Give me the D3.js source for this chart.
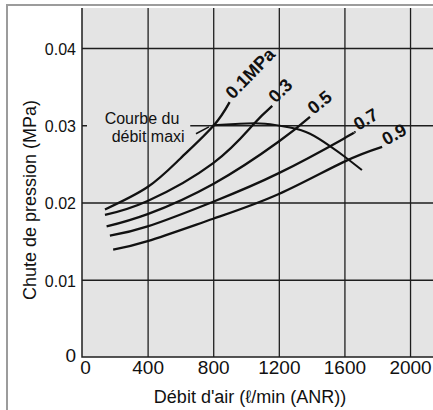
<!DOCTYPE html>
<html><head><meta charset="utf-8">
<script src="https://cdn.jsdelivr.net/npm/d3@7"></script>
<style>html,body{margin:0;padding:0;background:#fff}svg{display:block}</style>
</head><body><svg id="c" width="433" height="410"></svg>
<script>
// ---- data ----
const xTickValues = [0, 400, 800, 1200, 1600, 2000];
const xTickLabels = ["0", "400", "800", "1200", "1600", "2000"];
const yTickValues = [0, 0.01, 0.02, 0.03, 0.04];
const yTickLabels = ["0", "0.01", "0.02", "0.03", "0.04"];
const seriesNames = ["0.1MPa", "0.3", "0.5", "0.7", "0.9"];
const flow_01 = [140, 400, 600, 800, 900];
const drop_01 = [0.0191, 0.0220, 0.0257, 0.0299, 0.0330];
const flow_03 = [140, 400, 800, 1040, 1160];
const drop_03 = [0.0184, 0.0202, 0.0251, 0.0300, 0.0325];
const flow_05 = [150, 400, 800, 1200, 1390];
const drop_05 = [0.0169, 0.0185, 0.0224, 0.0279, 0.0311];
const flow_07 = [170, 400, 800, 1200, 1590, 1660];
const drop_07 = [0.0157, 0.0169, 0.0201, 0.0238, 0.0282, 0.0291];
const flow_09 = [190, 400, 800, 1200, 1590, 1830];
const drop_09 = [0.0139, 0.0150, 0.0179, 0.0211, 0.0252, 0.0272];
const maxFlow = [797, 963, 1116, 1268, 1390, 1512, 1604, 1707];
const maxDrop = [0.0300, 0.0302, 0.0302, 0.0297, 0.0289, 0.0273, 0.0259, 0.0242];
const maxLabelLines = ["Courbe du", "débit maxi"];
const maxLabelFlow = [138, 181];
const maxLabelDrop = [0.03016, 0.02783];
const leaderFlow = [695, 774];
const leaderDrop = [0.0289, 0.0298];
const xTitle = "Débit d'air (\u2113/min (ANR))";
const yTitle = "Chute de pression (MPa)";

// ---- style / layout ----
const W = 433, H = 410;
const plot = {left: 82, right: 433, top: 8, bottom: 357};
const labelAngles = [-46, -45, -39, -31, -29];
const FONT = "'Liberation Sans', Arial, Helvetica, sans-serif";
const BG = "#e4e4e4";

const svg = d3.select("#c");
const x = d3.scaleLinear().domain([0, 2140]).range([plot.left, plot.right]);
const y = d3.scaleLinear().domain([0, 0.04518]).range([plot.bottom, plot.top]);

// outer frame
svg.append("path").attr("d", `M7,${H} L7,5 L${W},5`).attr("fill", "none")
  .attr("stroke", "#9c9c9c").attr("stroke-width", 2);

// plot background
svg.append("rect").attr("x", plot.left).attr("y", plot.top)
  .attr("width", plot.right - plot.left).attr("height", plot.bottom - plot.top).attr("fill", BG);

// horizontal grid + y labels
const yAxis = svg.append("g").attr("transform", `translate(${plot.left},0)`)
  .call(d3.axisLeft(y).tickValues(yTickValues).tickFormat((d, i) => yTickLabels[i])
    .tickSize(-(plot.right - plot.left)).tickPadding(6));
yAxis.select(".domain").remove();
yAxis.selectAll(".tick line").attr("stroke", "#1e1e1e").attr("stroke-width", 1.3)
  .filter(d => d === 0).remove();
yAxis.selectAll(".tick text").attr("font-family", FONT).attr("font-size", 16).attr("fill", "#111")
  .attr("dy", "0.4em");
yAxis.selectAll(".tick text").filter(d => d === 0).attr("font-size", 19).attr("dy", "0.22em");

// label background (hides horizontal grid behind the annotation)
svg.append("rect").attr("x", plot.left + 5).attr("y", y(0.0317))
  .attr("width", x(660) - plot.left - 5).attr("height", y(0.0273) - y(0.0317)).attr("fill", BG);

// vertical grid + x labels
const xAxis = svg.append("g").attr("transform", `translate(0,${plot.bottom})`)
  .call(d3.axisBottom(x).tickValues(xTickValues).tickFormat((d, i) => xTickLabels[i])
    .tickSize(-(plot.bottom - plot.top)).tickPadding(4));
xAxis.select(".domain").remove();
xAxis.selectAll(".tick line").attr("stroke", "#1e1e1e").attr("stroke-width", 1.3)
  .filter(d => d === 0).remove();
xAxis.selectAll(".tick text").attr("font-family", FONT).attr("font-size", 19).attr("fill", "#111");
xAxis.selectAll(".tick text").filter(d => d === 0).attr("dx", 3);

// axis lines
svg.append("path").attr("d", `M${plot.left},${plot.top} L${plot.left},${plot.bottom} L${plot.right},${plot.bottom}`)
  .attr("fill", "none").attr("stroke", "#1e1e1e").attr("stroke-width", 1.5);

// curves
const series = [
  [flow_01, drop_01], [flow_03, drop_03], [flow_05, drop_05], [flow_07, drop_07], [flow_09, drop_09]
].map(([f, p], i) => ({name: seriesNames[i], pts: f.map((v, j) => [v, p[j]])}));
const line = d3.line().x(d => x(d[0])).y(d => y(d[1])).curve(d3.curveNatural);

svg.append("g").selectAll("path").data(series).join("path")
  .attr("d", d => line(d.pts)).attr("fill", "none").attr("stroke", "#111")
  .attr("stroke-width", 2.3).attr("stroke-linecap", "butt");

// max-flow curve
const maxPts = maxFlow.map((v, i) => [v, maxDrop[i]]);
svg.append("path").attr("d", line(maxPts)).attr("fill", "none").attr("stroke", "#111").attr("stroke-width", 2);
svg.append("line").attr("x1", x(leaderFlow[0])).attr("y1", y(leaderDrop[0]))
  .attr("x2", x(leaderFlow[1])).attr("y2", y(leaderDrop[1])).attr("stroke", "#111").attr("stroke-width", 1.5);

// series labels
svg.append("g").selectAll("text").data(series).join("text")
  .attr("transform", (d, i) => {
    const e = d.pts[d.pts.length - 1];
    return `translate(${x(e[0])},${y(e[1])}) rotate(${labelAngles[i]})`;
  })
  .attr("x", 4).attr("y", 1)
  .attr("font-family", FONT).attr("font-weight", "bold").attr("font-size", 18).attr("fill", "#111")
  .text(d => d.name);

// annotation text
svg.append("g").selectAll("text").data(maxLabelLines).join("text")
  .attr("x", (d, i) => x(maxLabelFlow[i])).attr("y", (d, i) => y(maxLabelDrop[i]))
  .attr("font-family", FONT).attr("font-size", 16).attr("fill", "#111").text(d => d);

// axis titles
svg.append("text").attr("x", 250).attr("y", 403)
  .attr("text-anchor", "middle").attr("font-family", FONT).attr("font-size", 18).attr("fill", "#111")
  .text(xTitle);
svg.append("text").attr("transform", `translate(36,200) rotate(-90)`)
  .attr("text-anchor", "middle").attr("font-family", FONT).attr("font-size", 18).attr("fill", "#111")
  .text(yTitle);
</script></body></html>
